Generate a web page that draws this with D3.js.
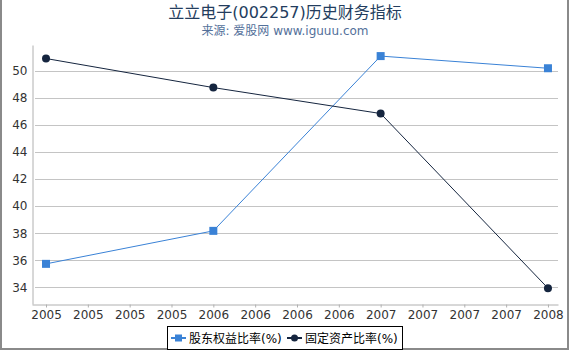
<!DOCTYPE html>
<html>
<head>
<meta charset="utf-8">
<script src="https://cdn.jsdelivr.net/npm/d3@7"></script>
<style>
  body { margin: 0; background: #fff; }
  svg { display: block; font-family: "DejaVu Sans", "Noto Sans CJK SC", sans-serif; }
</style>
</head>
<body>
<svg id="chart" width="570" height="350"></svg>
<script>
// data
const tickLabels = ['2005', '2005', '2005', '2005', '2006', '2006', '2006', '2006', '2007', '2007', '2007', '2007', '2008'];
const pointIdx = [0, 4, 8, 12];
const equityRatio = [35.73, 38.17, 51.1, 50.2];     // 股东权益比率(%)
const fixedAssetRatio = [50.92, 48.77, 46.85, 33.93]; // 固定资产比率(%)
const yTicks = [34, 36, 38, 40, 42, 44, 46, 48, 50];

const series = [
  { name: '股东权益比率(%)', values: equityRatio, color: '#3a82d6', shape: 'square' },
  { name: '固定资产比率(%)', values: fixedAssetRatio, color: '#15253f', shape: 'circle' },
];

const svg = d3.select('#chart');
const W = 570, H = 350;
const plot = { left: 32, right: 558, top: 45, bottom: 304 };
const FONT = '"DejaVu Sans", "Noto Sans CJK SC", sans-serif';

// x: quarterly slots labelled by year, y: linear percent
const x = d3.scaleLinear().domain([-0.335, 12.24]).range([plot.left, plot.right]);
const y = d3.scaleLinear().domain([32.76, 51.92]).range([plot.bottom, plot.top]);

// frame
svg.append('path')
  .attr('d', `M1,0V${H - 1}H${W - 2}V0`)
  .attr('fill', 'none').attr('stroke', '#8a8a8a').attr('stroke-width', 2);

// title
svg.append('text').attr('x', 285).attr('y', 18).attr('text-anchor', 'middle')
  .attr('font-size', 16).attr('fill', '#233d5e').attr('font-family', FONT)
  .text('立立电子(002257)历史财务指标');
svg.append('text').attr('x', 285).attr('y', 35).attr('text-anchor', 'middle')
  .attr('font-size', 12).attr('fill', '#53709a').attr('font-family', FONT)
  .text('来源: 爱股网 www.iguuu.com');

// gridlines
svg.append('g').selectAll('line').data(yTicks).join('line')
  .attr('x1', plot.left + 3).attr('x2', plot.right)
  .attr('y1', (d) => Math.round(y(d)) + 0.5).attr('y2', (d) => Math.round(y(d)) + 0.5)
  .attr('stroke', '#c4c4c4');

// y axis
const yAxis = svg.append('g').attr('transform', `translate(${plot.left + 0.5},0)`)
  .call(d3.axisLeft(y).tickValues(yTicks).tickSize(0).tickPadding(5));
yAxis.select('.domain').attr('stroke', '#b0b0b0');
yAxis.selectAll('text').attr('font-size', 12).attr('fill', '#333').attr('font-family', FONT);

// x axis
const xAxis = svg.append('g').attr('transform', `translate(0,${plot.bottom + 0.5})`)
  .call(d3.axisBottom(x).tickValues(d3.range(tickLabels.length)).tickFormat((i) => tickLabels[i])
    .tickSizeInner(3).tickSizeOuter(0).tickPadding(3));
xAxis.select('.domain').attr('stroke', '#b0b0b0');
xAxis.selectAll('.tick line').attr('stroke', '#b0b0b0');
xAxis.selectAll('text').attr('font-size', 12).attr('fill', '#333').attr('font-family', FONT);

// lines + markers
const line = d3.line().x((d, i) => x(pointIdx[i])).y((d) => y(d));
for (const s of series) {
  const g = svg.append('g');
  g.append('path').datum(s.values).attr('d', line)
    .attr('fill', 'none').attr('stroke', s.color).attr('stroke-width', 1);
  if (s.shape === 'square') {
    g.selectAll('rect').data(s.values).join('rect')
      .attr('x', (d, i) => x(pointIdx[i]) - 4).attr('y', (d) => y(d) - 4)
      .attr('width', 8).attr('height', 8).attr('fill', s.color);
  } else {
    g.selectAll('circle').data(s.values).join('circle')
      .attr('cx', (d, i) => x(pointIdx[i])).attr('cy', (d) => y(d))
      .attr('r', 4).attr('fill', s.color);
  }
}

// legend
const lg = svg.append('g');
lg.append('rect').attr('x', 167.5).attr('y', 326.5).attr('width', 235).attr('height', 23)
  .attr('fill', '#fff').attr('stroke', '#000');
const items = [{ s: series[0], x0: 171 }, { s: series[1], x0: 287 }];
for (const it of items) {
  const cy = 338;
  lg.append('line').attr('x1', it.x0).attr('x2', it.x0 + 15).attr('y1', cy).attr('y2', cy)
    .attr('stroke', it.s.color).attr('stroke-width', 2);
  if (it.s.shape === 'square') {
    lg.append('rect').attr('x', it.x0 + 4).attr('y', cy - 3.5).attr('width', 7).attr('height', 7).attr('fill', it.s.color);
  } else {
    lg.append('circle').attr('cx', it.x0 + 7.5).attr('cy', cy).attr('r', 3.5).attr('fill', it.s.color);
  }
  lg.append('text').attr('x', it.x0 + 18).attr('y', cy + 4.5).attr('font-size', 12).attr('fill', '#000')
    .attr('font-family', FONT)
    .text(it.s.name);
}
</script>
</body>
</html>
